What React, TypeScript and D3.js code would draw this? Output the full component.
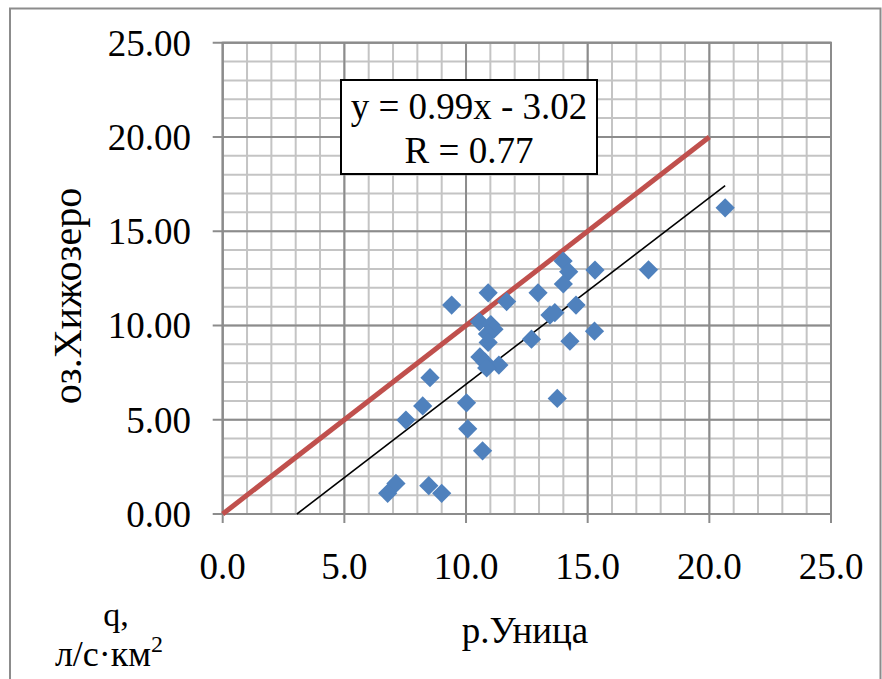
import React from "react";
import * as d3 from "d3";

const xValues = [20.65, 17.5, 15.3, 13.99, 14.22, 14.0, 12.96, 14.52, 13.45, 13.65, 15.28, 14.27, 12.69, 13.75, 10.91, 11.67, 9.41, 10.55, 11.02, 11.15, 10.88, 10.91, 10.57, 10.78, 11.35, 10.85, 8.52, 8.22, 7.53, 10.02, 10.07, 10.68, 7.12, 6.78, 8.47, 9.0];
const yValues = [16.24, 12.95, 12.94, 13.42, 12.85, 12.2, 11.73, 11.08, 10.55, 10.68, 9.7, 9.17, 9.27, 6.13, 11.73, 11.27, 11.08, 10.2, 10.05, 9.8, 9.55, 9.1, 8.33, 8.05, 7.9, 7.75, 7.23, 5.73, 4.98, 5.9, 4.52, 3.35, 1.62, 1.1, 1.5, 1.1];
const xTicks = [0, 5, 10, 15, 20, 25];
const yTicks = [0, 5, 10, 15, 20, 25];
const slope = 0.99;
const intercept = -3.02;
const equationLines = ["y = 0.99x - 3.02", "R = 0.77"];
const xTitle = "р.Уница";
const yTitle = "оз.Хижозеро";
const unitLine1 = "q,";
const unitLine2 = "л/с·км";

const W = 882;
const H = 679;
const FONT = "Liberation Serif, DejaVu Serif, serif";

export default function App() {
  const x = d3.scaleLinear().domain([0, 25]).range([222.7, 831]);
  const y = d3.scaleLinear().domain([0, 25]).range([514, 42.7]);
  const minor = d3.range(0, 26, 1);
  const pts = xValues.map((v, i) => [v, yValues[i]] as [number, number]);
  const xMax = d3.max(xValues) as number;
  const x0 = -intercept / slope;
  const line = d3.line<[number, number]>().x((d) => x(d[0])).y((d) => y(d[1]));
  const diamond = d3.symbol().type(d3.symbolSquare).size(185)();
  const ts = { fontFamily: FONT };

  return (
    <svg width={W} height={H} style={{ position: "absolute", left: 0, top: 0, background: "#fff", fontFamily: FONT }}>
      <rect x={0} y={0} width={W} height={H} fill="#fff" />
      <path d={`M10,${H + 5} V8.5 H880.5 V${H + 5}`} fill="none" stroke="#8c8c8c" strokeWidth={2} />
      {/* minor grid */}
      {minor.map((v) => (
        <g key={"m" + v}>
          <line x1={x(v)} x2={x(v)} y1={y(0)} y2={y(25)} stroke="#c4c4c4" strokeWidth={2} />
          <line x1={x(0)} x2={x(25)} y1={y(v)} y2={y(v)} stroke="#c4c4c4" strokeWidth={2} />
        </g>
      ))}
      {/* major grid */}
      {xTicks.map((v) => (
        <line key={"vx" + v} x1={x(v)} x2={x(v)} y1={y(25)} y2={y(0) + 9} stroke="#8c8c8c" strokeWidth={2} />
      ))}
      {yTicks.map((v) => (
        <line key={"hy" + v} x1={x(0) - 10} x2={x(25)} y1={y(v)} y2={y(v)} stroke="#8c8c8c" strokeWidth={2} />
      ))}
      <rect x={x(0)} y={y(25)} width={x(25) - x(0)} height={y(0) - y(25)} fill="none" stroke="#8c8c8c" strokeWidth={2} />
      {/* tick labels */}
      {yTicks.map((v) => (
        <text key={"ty" + v} x={191} y={y(v) + 13} textAnchor="end" fontSize={37} fill="#000" style={ts}>
          {v.toFixed(2)}
        </text>
      ))}
      {xTicks.map((v) => (
        <text key={"tx" + v} x={x(v)} y={579} textAnchor="middle" fontSize={37} fill="#000" style={ts}>
          {v.toFixed(1)}
        </text>
      ))}
      {/* lines */}
      <path d={line([[0, 0], [20, 20]]) || ""} stroke="#C0504D" strokeWidth={5} fill="none" />
      <path d={line([[x0, 0], [xMax, slope * xMax + intercept]]) || ""} stroke="#000" strokeWidth={1.6} fill="none" />
      {/* points */}
      {pts.map((p, i) => (
        <path key={"p" + i} d={diamond || ""} transform={`translate(${x(p[0])},${y(p[1])}) rotate(45)`} fill="#4F81BD" />
      ))}
      {/* equation box */}
      <rect x={341} y={80} width={256} height={94} fill="#fff" stroke="#000" strokeWidth={2} />
      <text x={469} y={119} textAnchor="middle" fontSize={37} fill="#000" style={ts}>{equationLines[0]}</text>
      <text x={469} y={163} textAnchor="middle" fontSize={37} fill="#000" style={ts}>{equationLines[1]}</text>
      {/* titles */}
      <text transform="translate(81,296) rotate(-90)" textAnchor="middle" fontSize={40} fill="#000" style={ts}>{yTitle}</text>
      <text x={525} y={643} textAnchor="middle" fontSize={37} fill="#000" style={ts}>{xTitle}</text>
      <text x={116} y={626} textAnchor="middle" fontSize={34} fill="#000" style={ts}>{unitLine1}</text>
      <text x={109} y={666} textAnchor="middle" fontSize={36} fill="#000" style={ts}>
        {unitLine2}
        <tspan fontSize={24} dy={-14}>2</tspan>
      </text>
    </svg>
  );
}
